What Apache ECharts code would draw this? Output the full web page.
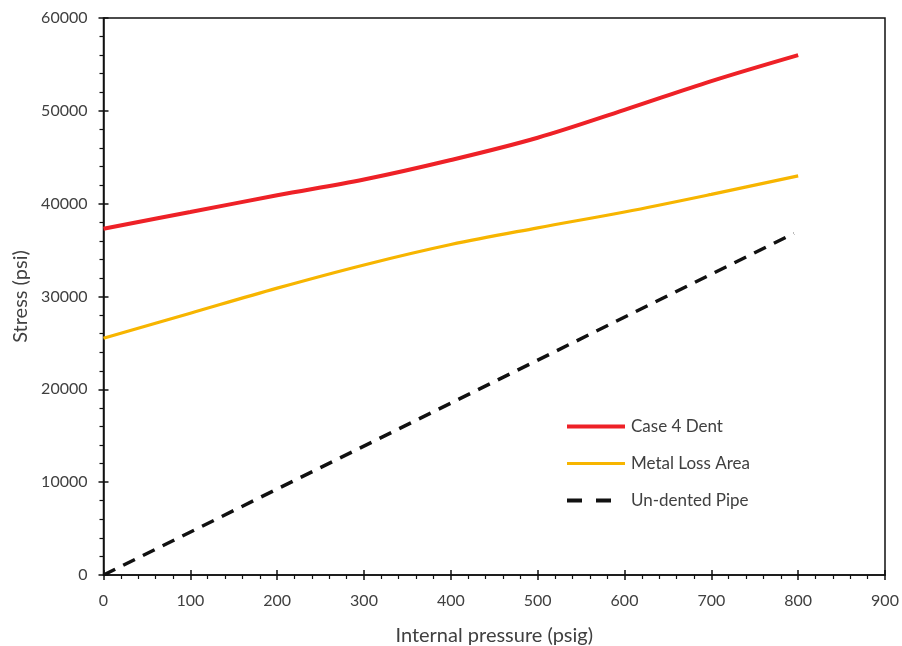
<!DOCTYPE html>
<html>
<head>
<meta charset="utf-8">
<script src="https://cdn.jsdelivr.net/npm/echarts@6/dist/echarts.min.js"></script>
<style>
  html, body { margin: 0; padding: 0; background: #fff; }
  #chart { width: 902px; height: 646px; }
</style>
</head>
<body>
<div id="chart"></div>
<script>
// data
var pressure = [0, 100, 200, 300, 400, 500, 600, 700, 800];
var dentStress = [37300, 39100, 40900, 42600, 44700, 47100, 50100, 53200, 56000];
var metalLossStress = [25500, 28200, 30900, 33400, 35600, 37400, 39100, 41000, 43000];
var undentedPressure = [0, 795];
var undentedStress = [0, 36800];
var seriesNames = ['Case 4 Dent', 'Metal Loss Area', 'Un-dented Pipe'];
var seriesColors = ['#ee2127', '#f7b500', '#111'];

function pairs(xs, ys) {
    return xs.map(function (x, i) { return [x, ys[i]]; });
}

var myChart = echarts.init(document.getElementById('chart'));

var labelFont = { color: '#404040', fontSize: 16, fontFamily: 'Lato' };
var axisLine = { lineStyle: { color: '#111', width: 1.5 } };

option = {
    animation: false,
    grid: {
        left: 103.5, right: 17, top: 18, bottom: 71,
        outerBoundsMode: 'none', containLabel: false,
        show: true, borderColor: '#111', borderWidth: 1.5
    },
    legend: {
        orient: 'vertical',
        left: 560,
        top: 413,
        itemWidth: 58,
        itemHeight: 14,
        itemGap: 20,
        itemStyle: { opacity: 0 },
        textStyle: { color: '#404040', fontSize: 17, fontFamily: 'Lato', padding: [0, 0, 0, 1] },
        data: [
            { name: seriesNames[0], lineStyle: { width: 4 } },
            { name: seriesNames[1], lineStyle: { width: 3.2 } },
            { name: seriesNames[2], lineStyle: { width: 4, type: [15, 14] } }
        ]
    },
    xAxis: [{
        type: 'value', min: 0, max: 900, interval: 100,
        name: 'Internal pressure (psig)',
        nameLocation: 'middle', nameGap: 51,
        nameTextStyle: { color: '#404040', fontSize: 20, fontFamily: 'Lato' },
        axisLine: axisLine,
        axisTick: { length: 5, lineStyle: { color: '#111', width: 1.5 } },
        minorTick: { show: true, splitNumber: 5, length: 4, lineStyle: { color: '#111', width: 1.2 } },
        axisLabel: Object.assign({ margin: 18 }, labelFont),
        splitLine: { show: false }
    }, {
        type: 'value', min: 0, max: 900, interval: 100, position: 'bottom',
        axisLine: { show: false },
        axisTick: { inside: true, length: 5, lineStyle: { color: '#111', width: 1.5 } },
        axisLabel: { show: false },
        splitLine: { show: false }
    }],
    yAxis: [{
        type: 'value', min: 0, max: 60000, interval: 10000,
        name: 'Stress (psi)',
        nameLocation: 'middle', nameGap: 72, nameRotate: 90,
        nameTextStyle: { color: '#404040', fontSize: 20, fontFamily: 'Lato' },
        axisLine: axisLine,
        axisTick: { length: 5, lineStyle: { color: '#111', width: 1.5 } },
        minorTick: { show: true, splitNumber: 5, length: 4, lineStyle: { color: '#111', width: 1.2 } },
        axisLabel: Object.assign({ margin: 16, formatter: function (v) { return String(v); } }, labelFont),
        splitLine: { show: false }
    }, {
        type: 'value', min: 0, max: 60000, interval: 10000, position: 'left',
        axisLine: { show: false },
        axisTick: { inside: true, length: 5, lineStyle: { color: '#111', width: 1.5 } },
        axisLabel: { show: false },
        splitLine: { show: false }
    }],
    series: [{
        name: seriesNames[0],
        type: 'line', smooth: 0.35, symbol: 'none',
        color: seriesColors[0],
        lineStyle: { width: 4, color: seriesColors[0] },
        data: pairs(pressure, dentStress)
    }, {
        name: seriesNames[1],
        type: 'line', smooth: 0.35, symbol: 'none',
        color: seriesColors[1],
        lineStyle: { width: 3.2, color: seriesColors[1] },
        data: pairs(pressure, metalLossStress)
    }, {
        name: seriesNames[2],
        type: 'line', symbol: 'none',
        color: seriesColors[2],
        lineStyle: { width: 3.5, color: seriesColors[2], type: [13, 9] },
        data: pairs(undentedPressure, undentedStress)
    }]
};

myChart.setOption(option);
</script>
</body>
</html>
